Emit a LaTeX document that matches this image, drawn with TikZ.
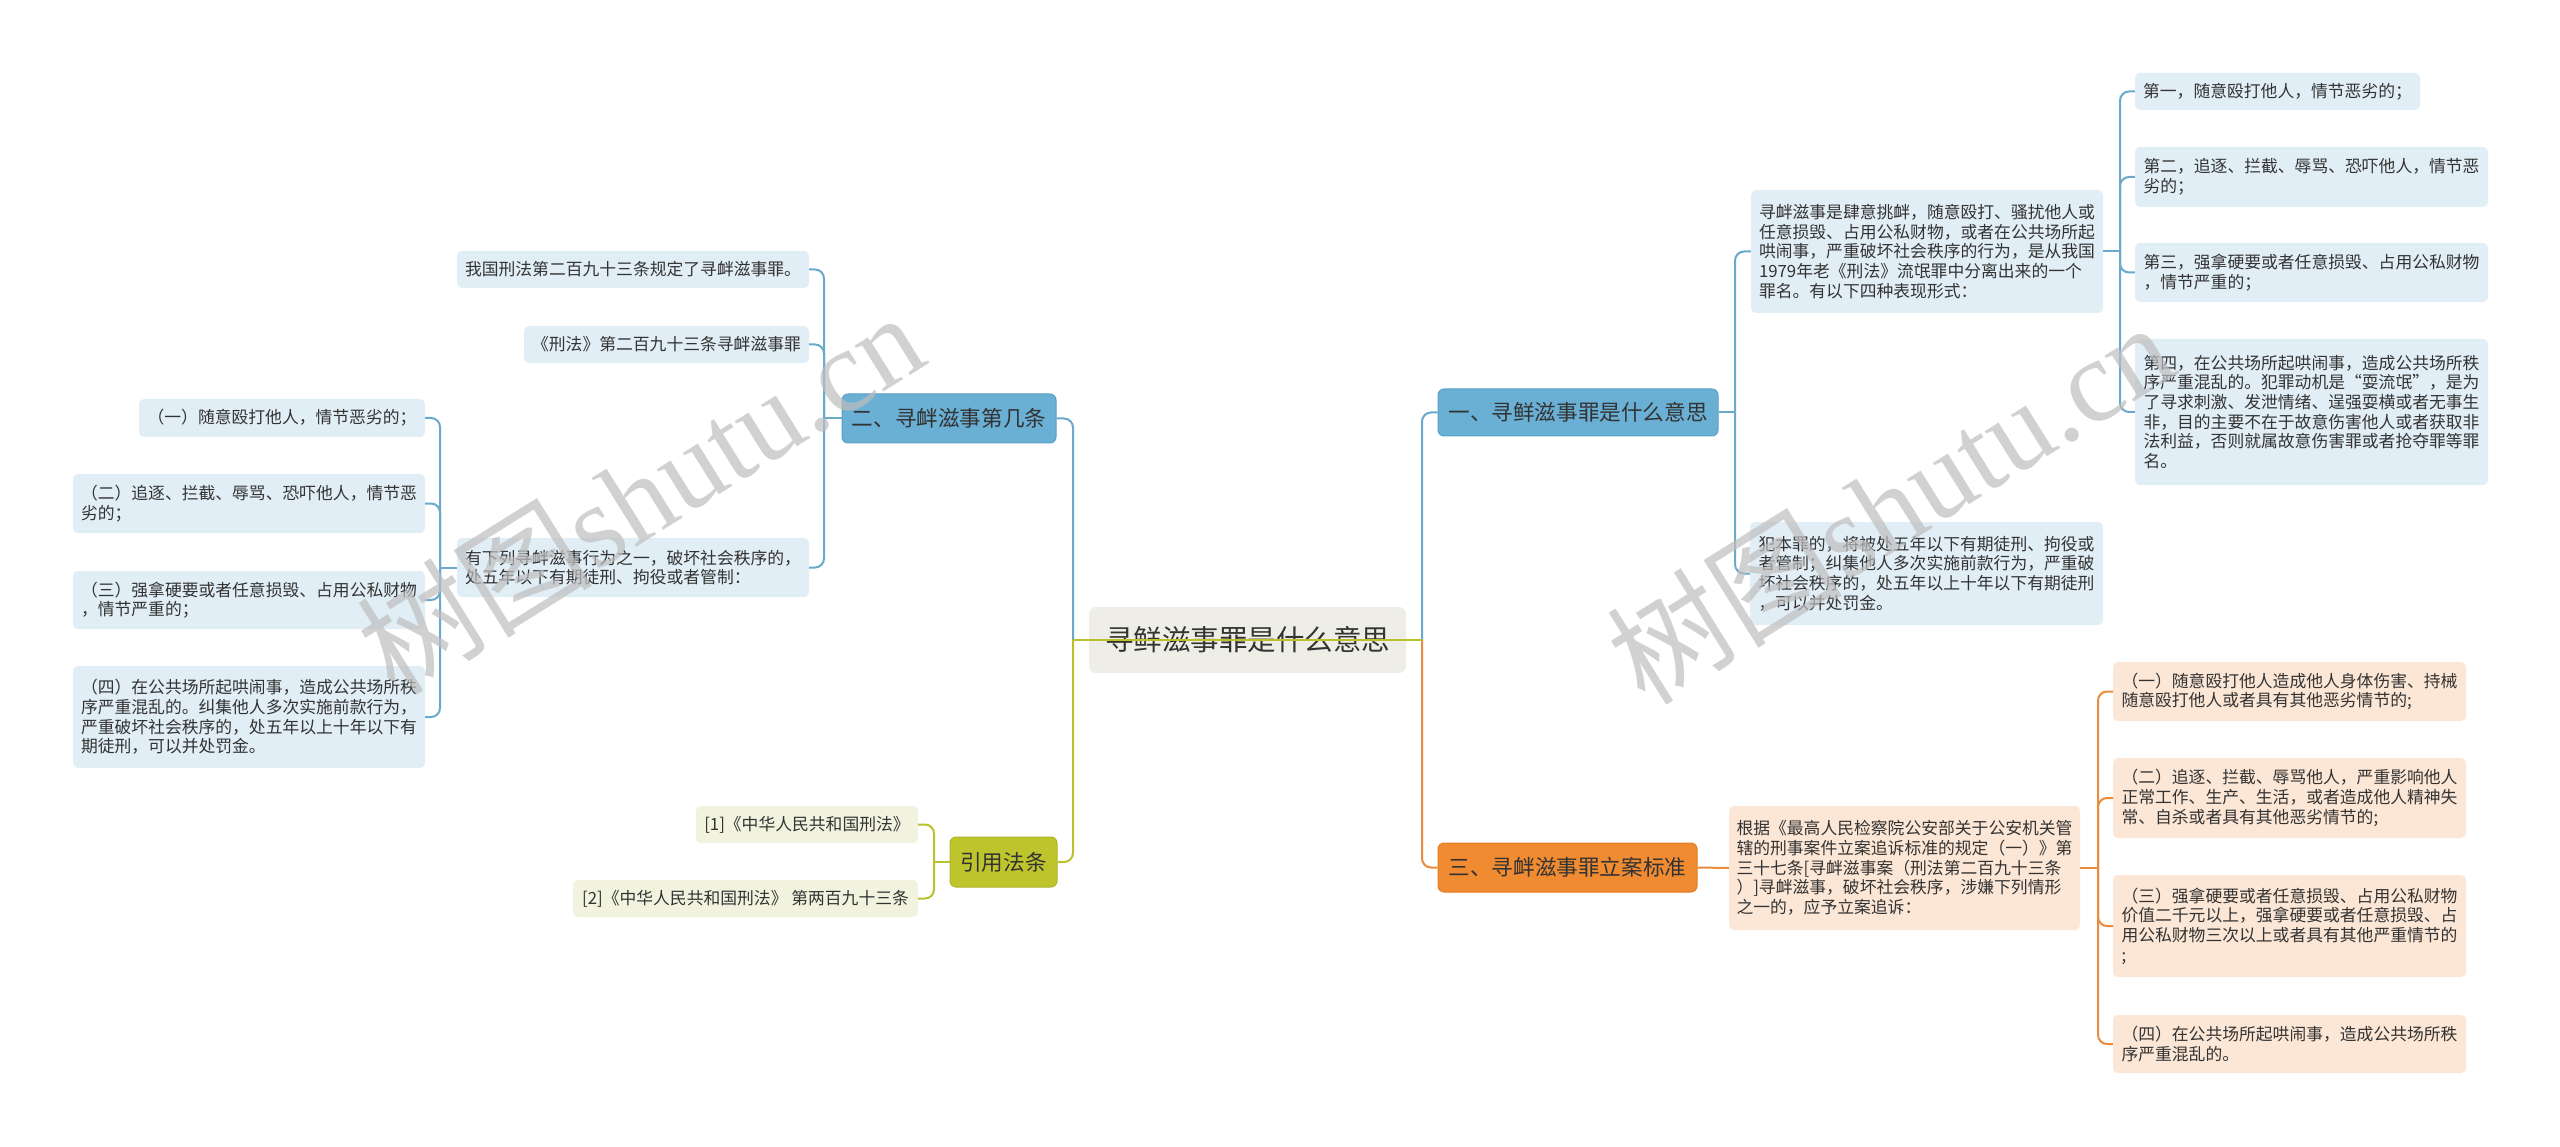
\documentclass[tikz,border=0pt]{standalone}
\usepackage{fontspec}
\setmainfont{Noto Sans CJK SC}
\newfontfamily\wmserif{Liberation Serif}
\newfontfamily\wmcjk{Noto Sans CJK SC}
\definecolor{bluemain}{HTML}{6AAFD4}
\definecolor{blueborder}{HTML}{5A9FC5}
\definecolor{blueline}{HTML}{6AA8CC}
\definecolor{blueleaf}{HTML}{E1EEF6}
\definecolor{orgmain}{HTML}{F08B32}
\definecolor{orgborder}{HTML}{E37C24}
\definecolor{orgline}{HTML}{EA8C3C}
\definecolor{orgleaf}{HTML}{FCE6D5}
\definecolor{grnmain}{HTML}{BEC52C}
\definecolor{grnborder}{HTML}{AEB523}
\definecolor{grnline}{HTML}{B9C22A}
\definecolor{grnleaf}{HTML}{F2F3DE}
\definecolor{ctrfill}{HTML}{EEEEE6}
\definecolor{txt}{HTML}{333333}
\definecolor{wmgray}{HTML}{BEBEBE}
\tikzset{
  bx/.style n args={4}{at={({(#1+#3)/2},{(#2+#4)/2})},
    minimum width={(#3)-(#1)}, minimum height={(#4)-(#2)}},
  leaf/.style={rounded corners=5pt, inner sep=0pt, align=left, text=txt,
    font=\fontsize{16.8}{19.7}\selectfont},
  leafB/.style={leaf, fill=blueleaf},
  leafO/.style={leaf, fill=orgleaf},
  leafG/.style={leaf, fill=grnleaf},
  mainnode/.style={rounded corners=6pt, line width=1pt, inner sep=0pt, text=txt,
    font=\fontsize{21.6}{26}\selectfont},
  mainB/.style={mainnode, draw=blueborder, fill=bluemain},
  mainO/.style={mainnode, draw=orgborder, fill=orgmain},
  mainG/.style={mainnode, draw=grnborder, fill=grnmain},
  ctrnode/.style={rounded corners=7pt, inner sep=0pt, fill=ctrfill, text=txt,
    font=\fontsize{28.5}{34}\selectfont},
  conB/.style={draw=blueline, line width=2pt, rounded corners=9pt},
  conO/.style={draw=orgline, line width=2pt, rounded corners=9pt},
  conG/.style={draw=grnline, line width=2pt, rounded corners=9pt},
  wmark/.style={rotate=32, text=wmgray, opacity=0.7, inner sep=0pt},
}
\begin{document}
\begin{tikzpicture}[x=1pt, y=-1pt]
\useasboundingbox (0,0) rectangle (2560,1147);
\fill[white] (0,0) rectangle (2560,1147);

% centre
\node[ctrnode, bx={1089}{607}{1406}{673}] (ctr) {寻鲜滋事罪是什么意思};

% branch one
\node[mainB, bx={1438}{389}{1718}{436}] (n1) {一、寻鲜滋事罪是什么意思};
\node[leafB, bx={1751}{190}{2103}{313}] (a1) {寻衅滋事是肆意挑衅，随意殴打、骚扰他人或\\任意损毁、占用公私财物，或者在公共场所起\\哄闹事，严重破坏社会秩序的行为，是从我国\\1979年老《刑法》流氓罪中分离出来的一个\\罪名。有以下四种表现形式：};
\node[leafB, bx={1750}{522}{2103}{625}] (a2) {犯本罪的，将被处五年以下有期徒刑、拘役或\\者管制；纠集他人多次实施前款行为，严重破\\坏社会秩序的，处五年以上十年以下有期徒刑\\，可以并处罚金。};
\node[leafB, bx={2135}{73}{2420}{110}] (b1) {第一，随意殴打他人，情节恶劣的；};
\node[leafB, bx={2135}{147}{2488}{207}] (b2) {第二，追逐、拦截、辱骂、恐吓他人，情节恶\\劣的；};
\node[leafB, bx={2135}{243}{2488}{302}] (b3) {第三，强拿硬要或者任意损毁、占用公私财物\\，情节严重的；};
\node[leafB, bx={2135}{339}{2488}{485}] (b4) {第四，在公共场所起哄闹事，造成公共场所秩\\序严重混乱的。犯罪动机是“耍流氓”，是为\\了寻求刺激、发泄情绪、逞强耍横或者无事生\\非，目的主要不在于故意伤害他人或者获取非\\法利益，否则就属故意伤害罪或者抢夺罪等罪\\名。};

% branch three
\node[mainO, bx={1438}{843}{1697}{892}] (n3) {三、寻衅滋事罪立案标准};
\node[leafO, bx={1729}{806}{2080}{930}] (c0) {根据《最高人民检察院公安部关于公安机关管\\辖的刑事案件立案追诉标准的规定（一）》第\\三十七条[寻衅滋事案（刑法第二百九十三条\\）]寻衅滋事，破坏社会秩序，涉嫌下列情形\\之一的，应予立案追诉：};
\node[leafO, bx={2113}{662}{2466}{721}] (c1) {（一）随意殴打他人造成他人身体伤害、持械\\随意殴打他人或者具有其他恶劣情节的;};
\node[leafO, bx={2113}{758}{2466}{838}] (c2) {（二）追逐、拦截、辱骂他人，严重影响他人\\正常工作、生产、生活，或者造成他人精神失\\常、自杀或者具有其他恶劣情节的;};
\node[leafO, bx={2113}{875}{2466}{977}] (c3) {（三）强拿硬要或者任意损毁、占用公私财物\\价值二千元以上，强拿硬要或者任意损毁、占\\用公私财物三次以上或者具有其他严重情节的\\;};
\node[leafO, bx={2113}{1015}{2466}{1073}] (c4) {（四）在公共场所起哄闹事，造成公共场所秩\\序严重混乱的。};

% branch two
\node[mainB, bx={842}{394}{1056}{443}] (n2) {二、寻衅滋事第几条};
\node[leafB, bx={457}{251}{809}{288}] (d1) {我国刑法第二百九十三条规定了寻衅滋事罪。};
\node[leafB, bx={524}{326}{809}{363}] (d2) {《刑法》第二百九十三条寻衅滋事罪};
\node[leafB, bx={457}{538}{809}{597}] (d3) {有下列寻衅滋事行为之一，破坏社会秩序的，\\处五年以下有期徒刑、拘役或者管制：};
\node[leafB, bx={139}{399}{425}{437}] (e1) {（一）随意殴打他人，情节恶劣的；};
\node[leafB, bx={73}{474}{425}{533}] (e2) {（二）追逐、拦截、辱骂、恐吓他人，情节恶\\劣的；};
\node[leafB, bx={73}{571}{425}{629}] (e3) {（三）强拿硬要或者任意损毁、占用公私财物\\，情节严重的；};
\node[leafB, bx={73}{666}{425}{768}] (e4) {（四）在公共场所起哄闹事，造成公共场所秩\\序严重混乱的。纠集他人多次实施前款行为，\\严重破坏社会秩序的，处五年以上十年以下有\\期徒刑，可以并处罚金。};

% citations
\node[mainG, bx={950}{837}{1057}{887}] (n4) {引用法条};
\node[leafG, bx={696}{806}{918}{843}] (f1) {[1]《中华人民共和国刑法》};
\node[leafG, bx={573}{880}{918}{917}] (f2) {[2]《中华人民共和国刑法》 第两百九十三条};

% junction coordinates
\coordinate (hubR) at (1422,640);
\coordinate (hubL) at (1073,640);
\coordinate (j1) at (1735,412.5);
\coordinate (ja) at (2120,251.5);
\coordinate (j3) at (2098,868);
\coordinate (j2) at (824,418.5);
\coordinate (jd) at (440,567.5);
\coordinate (j4) at (934,862);

% connectors, centre
\draw[conO] (ctr.east) -- (hubR);
\draw[conB] (hubR) |- (n1.west);
\draw[conO] (hubR) |- (n3.west);
\draw[conB] (hubR) -- (hubL);
\draw[conB] (hubL) |- (n2.east);
\draw[conG] (hubL) |- (n4.east);
\draw[conG] (hubR) -- (hubL);

% branch one
\draw[conB] (n1.east) -- (j1);
\draw[conB] (j1) |- (a1.west);
\draw[conB] (j1) |- (a2.west);
\draw[conB] (a1.east) -- (ja);
\draw[conB] (ja) |- (b1.west);
\draw[conB] (ja) |- (b2.west);
\draw[conB] (ja) |- (b3.west);
\draw[conB] (ja) |- (b4.west);

% branch three
\draw[conO] (n3.east) -- (c0.west);
\draw[conO] (c0.east) -- (j3);
\draw[conO] (j3) |- (c1.west);
\draw[conO] (j3) |- (c2.west);
\draw[conO] (j3) |- (c3.west);
\draw[conO] (j3) |- (c4.west);

% branch two
\draw[conB] (n2.west) -- (j2);
\draw[conB] (j2) |- (d1.east);
\draw[conB] (j2) |- (d2.east);
\draw[conB] (j2) |- (d3.east);
\draw[conB] (d3.west) -- (jd);
\draw[conB] (jd) |- (e1.east);
\draw[conB] (jd) |- (e2.east);
\draw[conB] (jd) |- (e3.east);
\draw[conB] (jd) |- (e4.east);

% citations
\draw[conG] (n4.west) -- (j4);
\draw[conG] (j4) |- (f1.east);
\draw[conG] (j4) |- (f2.east);

% watermarks
\node[wmark] (wm1) at (640,492) {\fontsize{118}{128}\selectfont\wmcjk 树图\wmserif shutu.cn};
\node[wmark] (wm2) at (1890,502) {\fontsize{118}{128}\selectfont\wmcjk 树图\wmserif shutu.cn};
\end{tikzpicture}
\end{document}
